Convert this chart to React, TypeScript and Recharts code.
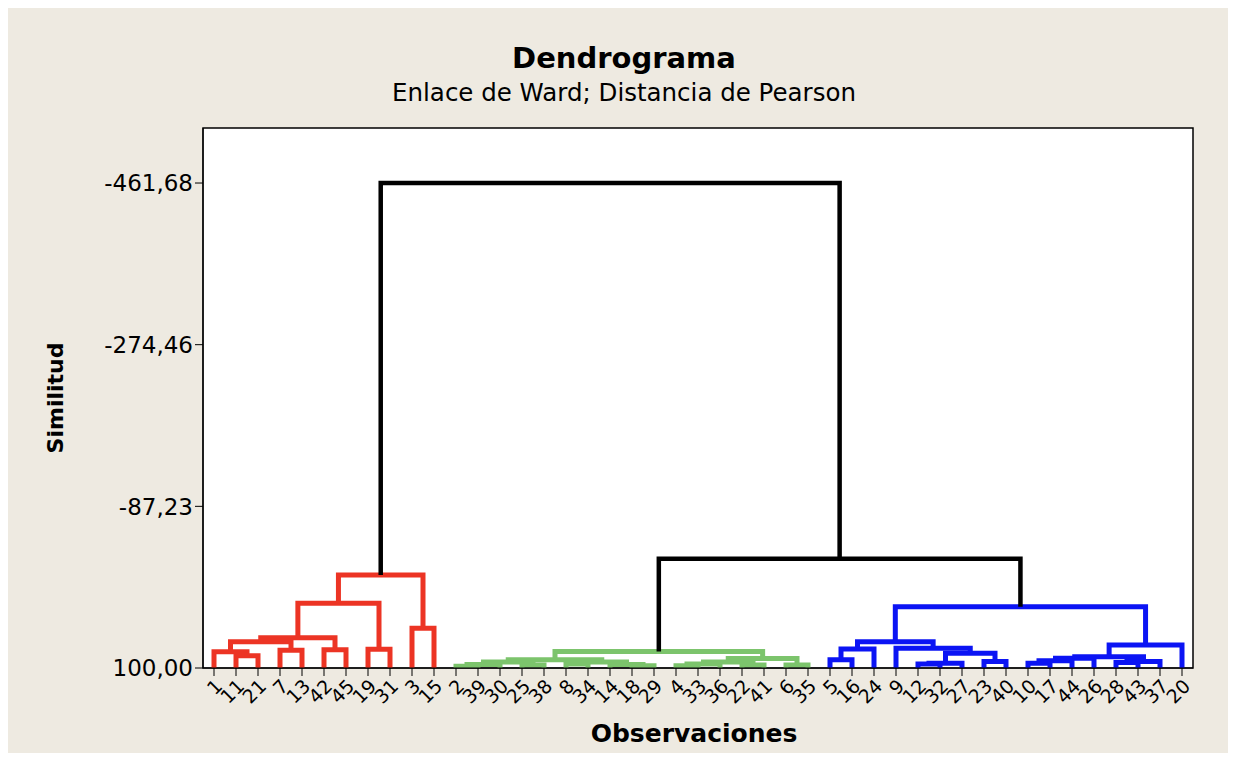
import {
  CartesianGrid,
  ComposedChart,
  Customized,
  Line,
  ReferenceArea,
  XAxis,
  YAxis,
} from "recharts";

// leaf order along the x axis, as printed under the plot
const observations = [
  "1", "11", "21", "7", "13", "42", "45", "19", "31", "3", "15",
  "2", "39", "30", "25", "38", "8", "34", "14", "18", "29",
  "4", "33", "36", "22", "41", "6", "35",
  "5", "16", "24", "9", "12", "32", "27", "23", "40",
  "10", "17", "44", "26", "28", "43", "37", "20",
];

const yTicks = [-461.68, -274.46, -87.23, 100];
const yDomain: [number, number] = [-525.4, 100];

// [merge id, left child, right child, similarity]; children are leaves or earlier merges
type Link = [string, string, string, number];

const redLinks: Link[] = [
  ["r1", "11", "21", 85.8],
  ["r2", "1", "r1", 81.3],
  ["r3", "7", "13", 79.4],
  ["r4", "r2", "r3", 69.5],
  ["r5", "42", "45", 79.0],
  ["r6", "r4", "r5", 65.0],
  ["r7", "19", "31", 78.3],
  ["r8", "r6", "r7", 25.0],
  ["r9", "3", "15", 54.0],
  ["r10", "r8", "r9", -7.7],
];

const greenLinks: Link[] = [
  ["g1", "2", "39", 98.0],
  ["g2", "g1", "30", 96.0],
  ["g3", "25", "38", 96.5],
  ["g4", "g2", "g3", 93.0],
  ["g5", "8", "34", 95.5],
  ["g6", "18", "29", 97.5],
  ["g7", "14", "g6", 96.0],
  ["g8", "g5", "g7", 93.0],
  ["g9", "g4", "g8", 90.5],
  ["g10", "4", "33", 97.5],
  ["g11", "g10", "36", 95.5],
  ["g12", "22", "41", 96.5],
  ["g13", "g11", "g12", 93.0],
  ["g14", "6", "35", 96.5],
  ["g15", "g13", "g14", 89.0],
  ["g16", "g9", "g15", 80.9],
];

const blueLinks: Link[] = [
  ["b1", "5", "16", 90.5],
  ["b2", "b1", "24", 78.0],
  ["b3", "12", "32", 95.5],
  ["b4", "b3", "27", 94.5],
  ["b5", "23", "40", 92.5],
  ["b6", "b4", "b5", 83.0],
  ["b7", "9", "b6", 77.0],
  ["b8", "b2", "b7", 69.5],
  ["b9", "10", "17", 94.6],
  ["b10", "b9", "44", 91.5],
  ["b11", "b10", "26", 88.8],
  ["b12", "28", "43", 93.5],
  ["b13", "b12", "37", 92.5],
  ["b14", "b11", "b13", 87.0],
  ["b15", "b14", "20", 73.4],
  ["b16", "b8", "b15", 29.0],
];

const rootLinks: Link[] = [
  ["k1", "g16", "b16", -26.5],
  ["k2", "r10", "k1", -461.68],
];

const clusters = [
  { color: "#ec3424", width: 5, links: redLinks },
  { color: "#7cc46c", width: 5, links: greenLinks },
  { color: "#0b14f4", width: 5, links: blueLinks },
  { color: "#000000", width: 4.5, links: rootLinks },
];

const FONT = "DejaVu Sans";
const BG = "#eeeae1";

const leafPos = new Map(observations.map((o, i) => [o, i]));
const nodePos = new Map<string, { x: number; h: number }>();
const getNode = (id: string) =>
  leafPos.has(id) ? { x: leafPos.get(id)!, h: 100 } : nodePos.get(id)!;

// each merge becomes a 4-point bracket: up from left child, across, down to right child
const brackets = clusters.flatMap((c) =>
  c.links.map(([id, a, b, h]) => {
    const l = getNode(a);
    const r = getNode(b);
    nodePos.set(id, { x: (l.x + r.x) / 2, h });
    return {
      id,
      color: c.color,
      width: c.width,
      points: [
        { x: l.x, y: l.h },
        { x: l.x, y: h },
        { x: r.x, y: h },
        { x: r.x, y: r.h },
      ],
    };
  })
);

const fmt = (v: number) => v.toFixed(2).replace(".", ",");

function Titles() {
  return (
    <g fontFamily={FONT} fill="#000">
      <text x={616} y={60} textAnchor="middle" fontSize={29} fontWeight="bold">
        Dendrograma
      </text>
      <text x={616} y={93} textAnchor="middle" fontSize={24.5}>
        Enlace de Ward; Distancia de Pearson
      </text>
      <text x={686} y={734} textAnchor="middle" fontSize={25} fontWeight="bold">
        Observaciones
      </text>
      <text
        x={55}
        y={390}
        textAnchor="middle"
        fontSize={22}
        fontWeight="bold"
        transform="rotate(-90, 55, 390)"
      >
        Similitud
      </text>
    </g>
  );
}

export default function App() {
  return (
    <div style={{ width: 1220, height: 745, background: BG, fontFamily: FONT }}>
      <ComposedChart
        width={1220}
        height={745}
        margin={{ top: 120, right: 35, bottom: 0, left: 0 }}
      >
        <CartesianGrid fill="#ffffff" horizontal={false} vertical={false} />
        <XAxis
          dataKey="x"
          type="number"
          domain={[-0.5, observations.length - 0.5]}
          ticks={observations.map((_, i) => i)}
          tickFormatter={(i: number) => observations[i]}
          interval={0}
          height={85}
          tickSize={8}
          tick={{ fontSize: 19, fill: "#000", angle: -45, textAnchor: "end" }}
          axisLine={{ stroke: "#000" }}
          tickLine={{ stroke: "#000" }}
          allowDataOverflow
        />
        <YAxis
          type="number"
          domain={yDomain}
          reversed
          ticks={yTicks}
          tickFormatter={fmt}
          width={195}
          tickSize={8}
          tick={{ fontSize: 23, fill: "#000" }}
          axisLine={{ stroke: "#000" }}
          tickLine={{ stroke: "#000" }}
          allowDataOverflow
        />
        <ReferenceArea
          x1={-0.5}
          x2={observations.length - 0.5}
          y1={yDomain[0]}
          y2={yDomain[1]}
          fill="none"
          stroke="#000"
          strokeWidth={1.5}
        />
        {brackets.map((b) => (
          <Line
            key={b.id}
            data={b.points}
            dataKey="y"
            type="linear"
            stroke={b.color}
            strokeWidth={b.width}
            strokeLinejoin="miter"
            dot={false}
            activeDot={false}
            isAnimationActive={false}
          />
        ))}
        <Customized component={Titles} />
      </ComposedChart>
    </div>
  );
}
